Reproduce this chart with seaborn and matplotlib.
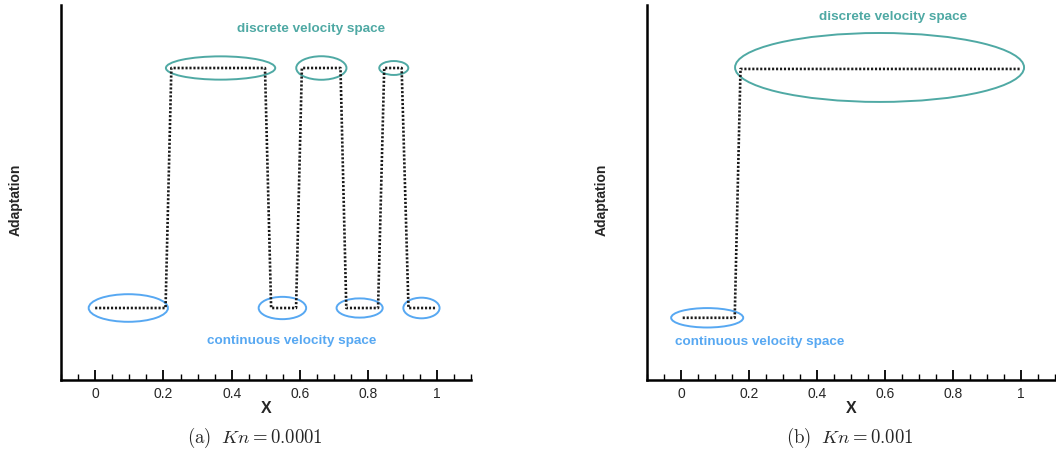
import numpy as np
import pandas as pd
import matplotlib
matplotlib.use("Agg")
import matplotlib.pyplot as plt
from matplotlib.patches import Ellipse
from matplotlib.ticker import MultipleLocator
import seaborn as sns

# ---- data ----
x_a = [0.0, 0.206, 0.223, 0.497, 0.515, 0.588, 0.605, 0.718, 0.735, 0.828, 0.846, 0.897, 0.917, 1.0]
y_a = [0, 0, 1, 1, 0, 0, 1, 1, 0, 0, 1, 1, 0, 0]
x_b = [0.005, 0.158, 0.175, 1.0]
y_b = [0, 0, 1, 1]
captions = [r"$\mathrm{(a)}\ \ Kn = 0.0001$", r"$\mathrm{(b)}\ \ Kn = 0.001$"]
tick_vals = [0, 0.2, 0.4, 0.6, 0.8, 1]
tick_labels = ["0", "0.2", "0.4", "0.6", "0.8", "1"]

TEAL = "#4fa9a4"
BLUE = "#57a8f2"

# annotations: (cx, cy, w, h)
ell_a_disc = [(0.367, 1.0, 0.32, 0.097), (0.662, 1.0, 0.147, 0.098), (0.874, 1.0, 0.085, 0.058)]
ell_a_cont = [(0.097, 0.0, 0.232, 0.115), (0.548, 0.0, 0.139, 0.093), (0.774, 0.0, 0.135, 0.08), (0.955, 0.0, 0.106, 0.086)]
ell_b_disc = [(0.584, 1.006, 0.85, 0.277)]
ell_b_cont = [(0.077, 0.0, 0.212, 0.078)]

sns.set_theme(style="white")
plt.rcParams["font.family"] = ["Liberation Sans", "DejaVu Sans"]
plt.rcParams["mathtext.fontset"] = "cm"

fig = plt.figure(figsize=(10.56, 4.54), dpi=100)
ax1 = fig.add_axes([61/1056, 1-380/454, 410/1056, 375/454])
ax2 = fig.add_axes([647/1056, 1-380/454, 408/1056, 375/454])

panels = [
    (ax1, x_a, y_a, (-0.3, 1.2625), ell_a_disc, ell_a_cont, (0.632, 1.1625), (0.574, -0.1375)),
    (ax2, x_b, y_b, (-0.25, 1.257), ell_b_disc, ell_b_cont, (0.625, 1.209), (0.232, -0.096)),
]

for i, (ax, xs, ys, ylim, ed, ec, td, tc) in enumerate(panels):
    df = pd.DataFrame({"x": xs, "y": ys})
    sns.lineplot(data=df, x="x", y="y", ax=ax, color="#1a1a1a", lw=1.9,
                 sort=False, estimator=None, dashes=False)
    ax.lines[0].set_dashes([0.8, 0.7])
    for (cx, cy, w, h) in ed:
        ax.add_patch(Ellipse((cx, cy), w, h, fill=False, ec=TEAL, lw=1.4))
    for (cx, cy, w, h) in ec:
        ax.add_patch(Ellipse((cx, cy), w, h, fill=False, ec=BLUE, lw=1.4))
    ax.text(td[0], td[1], "discrete velocity space", color=TEAL, fontsize=9.7,
            fontweight="bold", ha="center", va="center")
    ax.text(tc[0], tc[1], "continuous velocity space", color=BLUE, fontsize=9.7,
            fontweight="bold", ha="center", va="center")
    ax.set_xlim(-0.1, 1.1)
    ax.set_ylim(*ylim)
    ax.set_yticks([])
    ax.set_xticks(tick_vals)
    ax.set_xticklabels(tick_labels, fontsize=10)
    ax.xaxis.set_minor_locator(MultipleLocator(0.05))
    ax.tick_params(axis="x", which="major", direction="in", length=7, width=1.3,
                   pad=5, color="black", bottom=True)
    ax.tick_params(axis="x", which="minor", direction="in", length=4, width=1.0,
                   color="black", bottom=True)
    for s in ["top", "right"]:
        ax.spines[s].set_visible(False)
    for s in ["left", "bottom"]:
        ax.spines[s].set_color("black")
        ax.spines[s].set_linewidth(1.8)
    ax.set_xlabel("X", fontsize=11.5, fontweight="bold")
    ax.set_ylabel("Adaptation", fontsize=10, fontweight="bold")
    ax.xaxis.set_label_coords(0.5, -0.056)
    ax.yaxis.set_label_coords(-0.093, 0.48)
    ax.set_facecolor("white")

fig.text(255/1056, 1-438/454, captions[0], fontsize=13.5, ha="center", va="center")
fig.text(850/1056, 1-438/454, captions[1], fontsize=13.5, ha="center", va="center")

fig.savefig("out.png", dpi=100, facecolor="white")
